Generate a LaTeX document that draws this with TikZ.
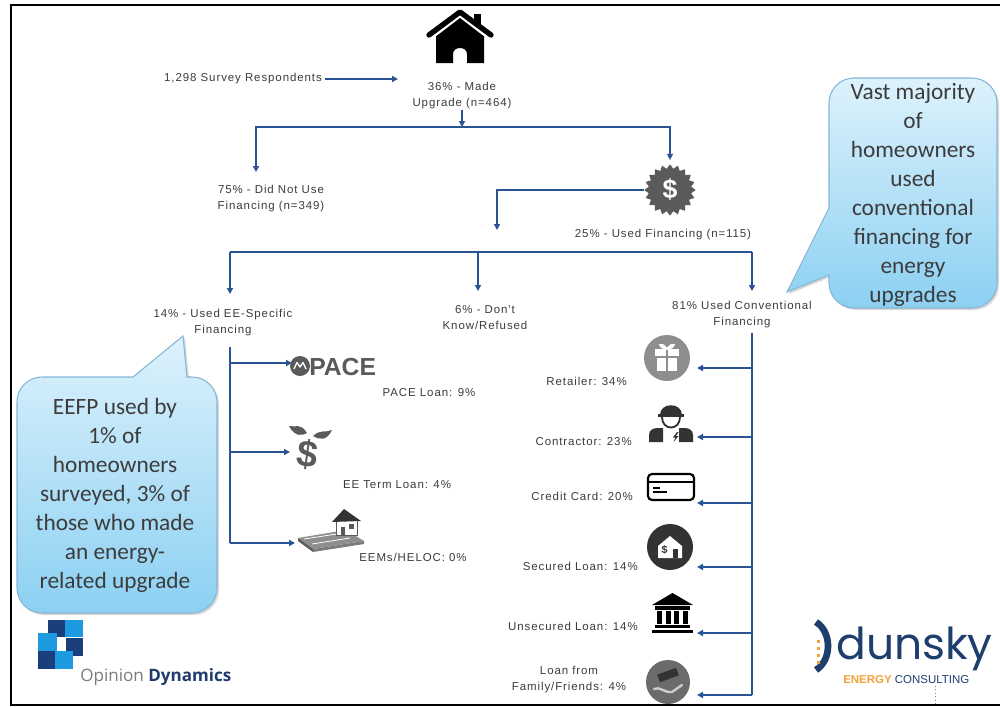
\documentclass[tikz,border=0pt]{standalone}
\usepackage{fontspec}
\setmainfont{Liberation Sans}
\newfontfamily\tf[LetterSpace=8]{Liberation Sans}
\newfontfamily\cf{Carlito}
\newfontfamily\odf{Open Sans}
\newfontfamily\dkf{Poppins}
\usetikzlibrary{arrows.meta,shapes.geometric,shadows}
\definecolor{lnc}{HTML}{2A5393}
\definecolor{txc}{HTML}{3C3C3C}
\definecolor{cltop}{HTML}{DDF2FC}
\definecolor{clbot}{HTML}{8CD0F2}
\definecolor{clbrd}{HTML}{86B6D6}
\definecolor{icg}{HTML}{5A5A5A}
\definecolor{icl}{HTML}{8E8E8E}
\definecolor{icd}{HTML}{333333}
\definecolor{odnavy}{HTML}{1B3F7C}
\definecolor{odblue}{HTML}{1E9BE0}
\definecolor{odtxt}{HTML}{1F3B6E}
\definecolor{odgray}{HTML}{7B7B7B}
\definecolor{dknavy}{HTML}{1E3F6E}
\definecolor{dkorange}{HTML}{F2A23A}
\tikzset{
 ln/.style={draw=lnc, line width=1.1pt},
 arr/.style={ln, -{Triangle[length=4.5pt,width=4.5pt]}},
 lbl/.style={font=\tf\fontsize{8.6}{12}\selectfont, text=txc, align=center, inner sep=0pt},
 cbox/.style={top color=cltop, bottom color=clbot, draw=clbrd, line width=0.8pt,
   drop shadow={opacity=0.3, shadow xshift=1.5pt, shadow yshift=-1.5pt}},
 ctext/.style={font=\cf\fontsize{17.5}{21.75}\selectfont, text=txc, align=center, inner sep=0pt},
}
\begin{document}
\begin{tikzpicture}[x=0.75pt,y=-0.75pt]
\useasboundingbox (0,0) rectangle (1000,707);
\fill[white] (0,0) rectangle (1000,707);
% frame
\draw[line width=1.5pt] (1000,5) -- (11,5) -- (11,705) -- (1000,705);

% callouts
\path[cbox] (857,78) -- (972,78) .. controls (985.8,78) and (997,89.2) .. (997,103)
  -- (997,283) .. controls (997,296.8) and (985.8,308) .. (972,308)
  -- (854,308) .. controls (840.2,308) and (829,296.8) .. (829,283)
  -- (829,275) -- (787,292) -- (829,208) -- (829,103)
  .. controls (829,89.2) and (840.2,78) .. (854,78) -- cycle;
\node[ctext] (c2) at (913,194.5) {Vast majority\\of\\homeowners\\used\\conventional\\financing for\\energy\\upgrades};

\path[cbox] (42,377) -- (133,377) -- (183,336) -- (187,377) -- (192,377)
  .. controls (205.8,377) and (217,388.2) .. (217,402) -- (217,588)
  .. controls (217,601.8) and (205.8,613) .. (192,613) -- (42,613)
  .. controls (28.2,613) and (17,601.8) .. (17,588) -- (17,402)
  .. controls (17,388.2) and (28.2,377) .. (42,377) -- cycle;
\node[ctext] (c1) at (115,495) {EEFP used by\\1\% of\\homeowners\\surveyed, 3\% of\\those who made\\an energy-\\related upgrade};

% house icon
\fill[black] (474,14) rectangle (481,24);
\draw[line width=4pt, line cap=round, line join=round] (429,35) -- (460,12) -- (491,35);
\fill[black] (436,36.4) -- (460,18) -- (484,36.4) -- (484,63) -- (467,63) -- (467,54)
  .. controls (467,46) and (453,46) .. (453,54) -- (453,63) -- (436,63) -- cycle;

% top labels
\node[lbl] (resp) at (243,79) {1,298 Survey Respondents};
\coordinate (respEnd) at (398,79);
\draw[arr, shorten <=2pt] (resp.east) -- (respEnd);
\node[lbl] (made) at (462,96) {36\% - Made\\Upgrade (n=464)};
\coordinate (j1) at (462,127);
\draw[arr] (made.south) -- (j1);
\node[lbl] (notuse) at (271,198.5) {75\% - Did Not Use\\Financing (n=349)};
\coordinate (tNot) at (256,172);
\draw[arr] (j1) -| (tNot);

% badge
\node[star, star points=20, star point ratio=1.2, fill=icg, minimum size=38.5pt, inner sep=0pt] (badge) at (670,190) {};
\node[font=\bfseries\fontsize{20}{20}\selectfont, text=white, inner sep=0pt] (dollar) at (badge.center) {\$};
\draw[arr, shorten >=3pt] (j1) -| (badge.north);
\coordinate (tUF) at (497,230);
\draw[arr] (badge.west) -| (tUF);
\node[lbl] (usedfin) at (663,235) {25\% - Used Financing (n=115)};

% bar
\coordinate (bL) at (230,252);
\coordinate (bM) at (478,252);
\coordinate (bR) at (752,252);
\coordinate (tEE) at (230,294);
\coordinate (tDK) at (478,291);
\coordinate (tCV) at (752,291);
\draw[ln] (bL) -- (bR);
\draw[arr] (bL) -- (tEE);
\draw[arr] (bM) -- (tDK);
\draw[arr] (bR) -- (tCV);

\node[lbl] (eespec) at (223,322.5) {14\% - Used EE-Specific\\Financing};
\node[lbl] (dont) at (485,317.5) {6\% - Don't\\Know/Refused};
\node[lbl] (conv) at (742,315) {81\% Used Conventional\\Financing};

% EE branch
\coordinate (evTop) at (230,347);
\coordinate (evBot) at (230,543);
\draw[ln] (evTop) -- (evBot);
\coordinate (e1) at (230,363); \coordinate (e1t) at (292,363);
\coordinate (e2) at (230,452); \coordinate (e2t) at (290,452);
\coordinate (e3) at (230,543); \coordinate (e3t) at (295,543);
\draw[arr] (e1) -- (e1t);
\draw[arr] (e2) -- (e2t);
\draw[arr] (e3) -- (e3t);

% PACE logo
\fill[icg] (300,366) circle (7.5pt);
\draw[white, line width=1pt, line join=round] (294,369) -- (297,362.5) -- (300,367) -- (303,362.5) -- (306,369);
\node[font=\bfseries\fontsize{18.5}{18.5}\selectfont, text=icg, anchor=west, inner sep=0pt] (pace) at (309,367) {PACE};
\node[lbl] (lpace) at (429,393) {PACE Loan: 9\%};

% EE term dollar
\fill[icg] (307,433) .. controls (300,422) and (296,428) .. (289,426) .. controls (295,437) and (302,436) .. (307,433) -- cycle;
\fill[icg] (313,436) .. controls (320,429) and (326,433) .. (332,430) .. controls (327,441) and (319,440) .. (313,436) -- cycle;
\node[font=\bfseries\fontsize{28}{28}\selectfont, text=icg, inner sep=0pt, rotate=-8] (eed) at (308,455) {\$};
\node[lbl] (lterm) at (397,485) {EE Term Loan: 4\%};

% money house
\fill[icl] (298,538) -- (346,530) -- (364,541) -- (313,549) -- cycle;
\fill[icg] (298,538) -- (313,549) -- (313,552) -- (298,541) -- cycle;
\fill[icg!80] (313,549) -- (364,541) -- (364,544) -- (313,552) -- cycle;
\draw[white, line width=0.6pt] (304,539) -- (340,533.5);
\draw[white, line width=0.6pt] (312,544) -- (350,538);
\fill[white, draw=icg, line width=0.6pt] (336,520) rectangle (357,535);
\fill[icd] (332,522) -- (344,509) -- (361,521) -- cycle;
\fill[icg] (341,527) rectangle (345,535);
\fill[icg] (349,524) rectangle (354,529);
\node[lbl] (lheloc) at (413,557) {EEMs/HELOC: 0\%};

% conventional branch
\coordinate (cvTop) at (752,333);
\coordinate (cvBot) at (752,695);
\draw[ln] (cvTop) -- (cvBot);
\foreach \yy/\nm in {368/a,437/b,503/c,567/d,633/e,695/f}{
  \coordinate (cv\nm) at (752,\yy);
  \coordinate (ct\nm) at (697,\yy);
  \draw[arr] (cv\nm) -- (ct\nm);
}

% gift
\fill[icl] (667,358) circle (17.25pt);
\fill[white] (655,349) rectangle (679,356);
\fill[white] (657,357.5) rectangle (677,371);
\fill[icl] (666,349) rectangle (668,371);
\draw[white, line width=1.3pt] (667,349) .. controls (660,340) and (656,347) .. (667,349);
\draw[white, line width=1.3pt] (667,349) .. controls (674,340) and (678,347) .. (667,349);
\node[lbl, anchor=east] (lret) at (627,381) {Retailer: 34\%};

% contractor
\fill[icd] (660,415) .. controls (660,402) and (682,402) .. (682,415) -- cycle;
\fill[icd] (658,413.5) rectangle (684,417);
\draw[icd, line width=1.4pt] (662,417) .. controls (662,431) and (680,431) .. (680,417);
\fill[icd] (649,442) -- (649,435) .. controls (649,430) and (653,428) .. (658,428) -- (663,428) -- (663,442) -- cycle;
\fill[icd] (693,442) -- (693,435) .. controls (693,430) and (689,428) .. (684,428) -- (679,428) -- (679,442) -- cycle;
\fill[icd] (677,432) -- (673,437.5) -- (675.5,437.5) -- (673.5,442) -- (678.5,436) -- (676,436) -- (678.5,432) -- cycle;
\node[lbl, anchor=east] (lcon) at (632,442) {Contractor: 23\%};

% credit card
\draw[black, line width=1.6pt, rounded corners=3pt] (648,474) rectangle (694,500);
\draw[black, line width=1.5pt] (648,482) -- (694,482);
\draw[black, line width=1.2pt] (653,488) -- (660,488);
\draw[black, line width=1.2pt] (653,492) -- (667,492);
\node[lbl, anchor=east] (lcc) at (633,496) {Credit Card: 20\%};

% secured loan
\fill[icd] (670,547) circle (17.25pt);
\fill[white] (658,558) -- (658,546) -- (670,536) -- (682,546) -- (682,558) -- cycle;
\node[font=\bfseries\fontsize{8}{8}\selectfont, text=icd, inner sep=0pt] (secd) at (664.5,550) {\$};
\fill[icd] (673,549) rectangle (678,558);
\node[lbl, anchor=east] (lsec) at (638,566) {Secured Loan: 14\%};

% bank
\fill[black] (652,605) -- (672.5,593) -- (693,605) -- cycle;
\fill[black] (655,606) rectangle (690,609.5);
\foreach \xx in {657,665.5,674,682.5}{\fill[black] (\xx,611) rectangle ++(5,13);}
\fill[black] (655,625) rectangle (690,628);
\fill[black] (652,629.5) rectangle (693,632.5);
\node[lbl, anchor=east] (luns) at (638,626) {Unsecured Loan: 14\%};

% family
\fill[icg!90] (668,682) circle (16.5pt);
\fill[icd, rotate around={20:(668,675)}] (658,671) rectangle (678,679);
\draw[gray!40, line width=1.8pt, line cap=round, line join=round] (654,689) .. controls (660,686) and (664,693) .. (672,692) -- (682,685);
\node[lbl] (lfam) at (569,680) {Loan from\\Family/Friends: 4\%};

% Opinion Dynamics logo
\fill[odnavy] (48,620) rectangle (65,637);
\fill[odblue] (65,620) rectangle (83,637);
\fill[odblue] (38,633) rectangle (57,651);
\fill[odnavy] (66,638) rectangle (83,656);
\fill[odnavy] (38,651) rectangle (55,669);
\fill[odblue] (55,651) rectangle (73,669);
\node[font=\odf\fontsize{12.8}{15}\selectfont, anchor=base west, inner sep=0pt] (odtext) at (80,681) {\textcolor{odgray}{Opinion} \textcolor{odtxt}{\bfseries Dynamics}};

% dunsky logo
\draw[dknavy, line width=5pt] (816,622) .. controls (832,632) and (832,660) .. (816,670);
\foreach \yy in {640,647,654,661}{\fill[dkorange] (816.5,\yy) rectangle ++(3,3);}
\node[font=\dkf\fontsize{33}{33}\selectfont, text=dknavy, anchor=base west, inner sep=0pt, text depth=0pt] (dunsky) at (836,659) {dunsky};
\node[font=\fontsize{8.6}{9}\selectfont, anchor=base west, inner sep=0pt] (dkec) at (843,683) {\textcolor{dkorange}{\bfseries ENERGY} \textcolor{dknavy}{CONSULTING}};
\draw[gray, dotted, line width=0.6pt] (935,686) -- (935,705);
\end{tikzpicture}
\end{document}
